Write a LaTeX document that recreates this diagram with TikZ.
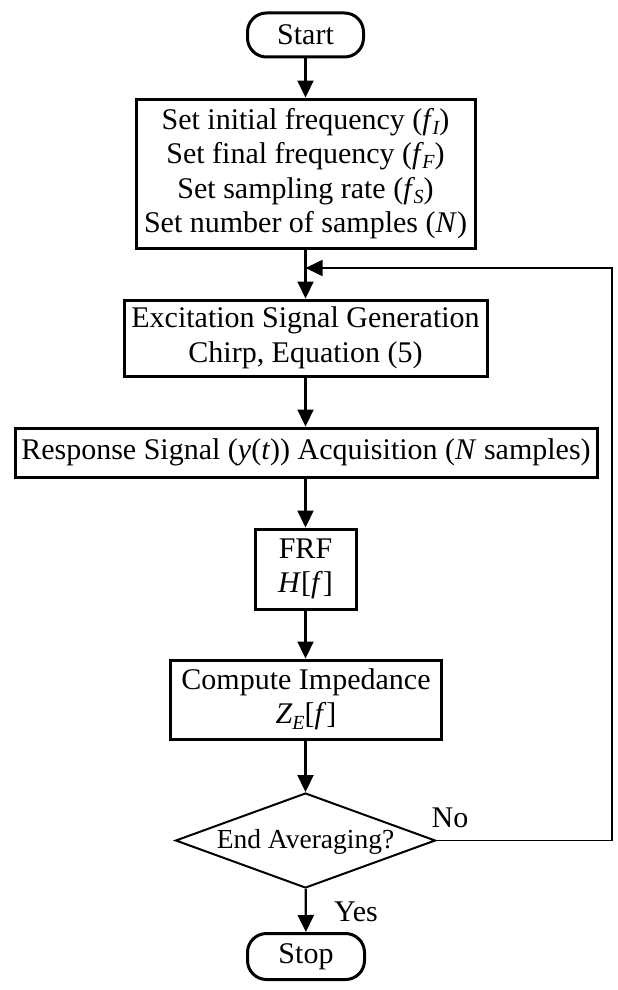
\documentclass[tikz,border=0pt]{standalone}
\usepackage{fontspec}
\setmainfont{Liberation Serif}
\usetikzlibrary{shapes.geometric,arrows.meta}
\newcommand{\lsub}[1]{\raisebox{-0.17em}{\fontsize{20}{20}\selectfont\itshape #1}}
\tikzset{
  box/.style={draw, line width=3pt, inner sep=0pt, align=center, font=\fontsize{30}{34.5}\selectfont},
  term/.style={box, rounded corners=19pt},
  conn/.style={line width=2.2pt, -{Triangle[length=17pt,width=16pt]}},
  lbl/.style={inner sep=0pt, font=\fontsize{30}{34}\selectfont}
}
\begin{document}
\begin{tikzpicture}[x=1pt,y=-1pt]
\useasboundingbox (0,0) rectangle (618,990);
\node[term, minimum width=116pt, minimum height=44pt] (start) at (305.5,35) {Start};
\node[box, minimum width=339pt, minimum height=149pt] (init) at (305.5,173.5)
  {Set initial frequency (\textit{f}\kern-0.05em\lsub{I})\\
   Set final frequency (\textit{f}\kern-0.05em\lsub{F})\\
   Set sampling rate (\textit{f}\kern-0.05em\lsub{S})\\
   Set number of samples (\textit{N})};
\node[box, minimum width=363pt, minimum height=76pt] (exc) at (305.5,338)
  {Excitation Signal Generation\\ Chirp, Equation (5)};
\node[box, minimum width=582pt, minimum height=49pt] (resp) at (306,452.5)
  {Response Signal (\textit{y}(\textit{t})) Acquisition (\textit{N} samples)};
\node[box, minimum width=101pt, minimum height=80pt] (frf) at (305.5,569)
  {FRF\\ \textit{H}[\textit{f}]};
\node[box, minimum width=271pt, minimum height=79pt] (imp) at (306,699.5)
  {Compute Impedance\\ \textit{Z}\lsub{E}[\textit{f}]};
\node[draw, diamond, line width=2pt, inner sep=0pt, minimum width=260pt, minimum height=95pt] (dec) at (305.5,840.5) {};
\node[lbl, font=\fontsize{27.5}{30}\selectfont] (dectext) at (305.5,842) {End Averaging?};
\node[term, minimum width=117pt, minimum height=46pt] (stop) at (306,956.5) {Stop};
\node[lbl] (no) at (450,818) {No};
\node[lbl] (yes) at (356,912) {Yes};
\coordinate (fbr) at (612,268);
\coordinate (join) at (305.5,268);
\draw[conn] (start) -- (init);
\draw[line width=2.2pt] (init) -- (join);
\draw[conn] (join) -- (exc);
\draw[conn] (exc) -- (resp.north -| exc.south);
\draw[conn] (resp.south -| frf.north) -- (frf);
\draw[conn] (frf) -- (imp.north -| frf.south);
\draw[conn] (imp.south -| dec.north) -- (dec);
\draw[conn] (dec) -- (stop);
\draw[line width=1.7pt, -{Triangle[length=17pt,width=16pt]}] (dec.east) -| (fbr) -- (join);
\end{tikzpicture}
\end{document}
